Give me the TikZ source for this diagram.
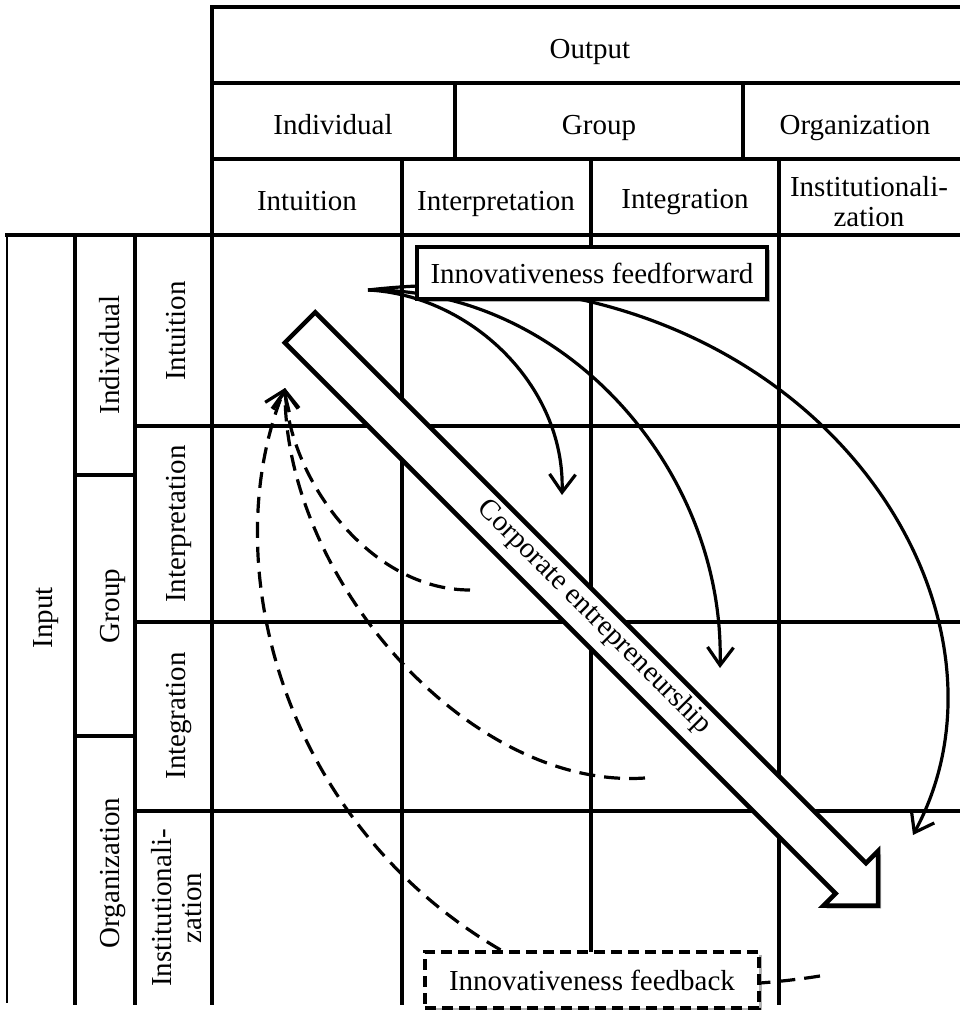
\documentclass[tikz,border=0pt]{standalone}
\usepackage{fontspec}
\setmainfont{Liberation Serif}
\usetikzlibrary{arrows.meta,shadows}
\begin{document}
\begin{tikzpicture}[x=1pt,y=-1pt,
  gridline/.style={line width=4.2pt,line cap=rect},
  thinline/.style={line width=2.2pt},
  cell/.style={font=\fontsize{29}{30}\selectfont,text height=20pt,text depth=6pt,inner sep=0pt},
  celltwo/.style={font=\fontsize{29}{30}\selectfont,align=center,inner sep=0pt},
  vcell/.style={cell,rotate=90},
  softshadow/.style={drop shadow={shadow xshift=3pt,shadow yshift=-3pt,opacity=0.3,fill=black}},
  ffarrow/.style={line width=3.2pt,-{Straight Barb[length=18pt,width=26pt]}},
  fbarrow/.style={ffarrow,dash pattern=on 16pt off 9pt},
  ffbox/.style={draw,line width=4pt,fill=white,softshadow,minimum width=350pt,minimum height=52pt,inner sep=0pt,font=\fontsize{29}{30}\selectfont},
  fbbox/.style={draw,line width=4pt,fill=white,softshadow,dash pattern=on 11pt off 6pt,minimum width=334pt,minimum height=56pt,inner sep=0pt,font=\fontsize{29}{30}\selectfont},
  bigarrow/.style={draw,line width=4.5pt,fill=white,line join=miter,softshadow},
]
\useasboundingbox (0,0) rectangle (960,1010);

% ---------- grid ----------
\draw[gridline] (212,7) -- (960,7);
\draw[gridline] (212,83) -- (960,83);
\draw[gridline] (212,159) -- (960,159);
\draw[gridline] (7,235) -- (960,235);
\draw[gridline] (135,426) -- (960,426);
\draw[gridline] (135,622) -- (960,622);
\draw[gridline] (135,811) -- (960,811);
\draw[gridline] (75,475) -- (135,475);
\draw[gridline] (75,736) -- (135,736);
\draw[gridline] (212,7) -- (212,1003);
\draw[gridline] (455,83) -- (455,159);
\draw[gridline] (743,83) -- (743,159);
\draw[gridline] (402,159) -- (402,1003);
\draw[gridline] (591,159) -- (591,1003);
\draw[gridline] (779,159) -- (779,1003);
\draw[gridline] (75,235) -- (75,1003);
\draw[gridline] (135,235) -- (135,1003);
\draw[thinline] (7,235) -- (7,1003);

% ---------- header labels ----------
\node[cell] (out) at (590,51) {Output};
\node[cell] (hind) at (333,127) {Individual};
\node[cell] (hgrp) at (599,127) {Group};
\node[cell] (horg) at (855,127) {Organization};
\node[cell] (hint) at (307,203) {Intuition};
\node[cell] (hinp) at (496,203) {Interpretation};
\node[cell] (hing) at (685,201) {Integration};
\node[celltwo] (hins) at (869,202) {Institutionali-\\zation};

% ---------- left labels ----------
\node[vcell] (input) at (45,618) {Input};
\node[vcell] (lind) at (112,355) {Individual};
\node[vcell] (lgrp) at (112,606) {Group};
\node[vcell] (lorg) at (112,873) {Organization};
\node[vcell] (lint) at (178,331) {Intuition};
\node[vcell] (linp) at (178,524) {Interpretation};
\node[vcell] (ling) at (178,716) {Integration};
\node[celltwo,rotate=90] (lins) at (177,908) {Institutionali-\\zation};

% ---------- feedforward ----------
\coordinate (ffs) at (368,290);
\coordinate (ff1) at (562,495);
\coordinate (ff2) at (720,668);
\coordinate (ff3) at (913,835);
\draw[ffarrow] (ffs) .. controls (470,295) and (565,385) .. (ff1);
\draw[ffarrow] (ffs) .. controls (565,288) and (725,470) .. (ff2);
\draw[ffarrow] (ffs) .. controls (800,240) and (1040,600) .. (ff3);
\node[ffbox] (ffbx) at (592,273) {Innovativeness feedforward};

% ---------- feedback ----------
\coordinate (fbt) at (285,388);
\coordinate (fba) at (470,590);
\coordinate (fbb) at (645,778);
\coordinate (fbc) at (820,976);
\coordinate (fbq) at (499,949);
\draw[fbarrow] (fba) .. controls (370,590) and (290,480) .. (fbt);
\draw[fbarrow] (fbb) .. controls (470,790) and (285,580) .. (fbt);
\draw[fbarrow] (fbc) .. controls (700,995) and (560,985) .. (fbq) .. controls (280,820) and (215,560) .. (fbt);
\node[fbbox] (fbbx) at (592,980) {Innovativeness feedback};

% ---------- corporate entrepreneurship arrow ----------
\draw[bigarrow] (315.2,312.3) -- (866,863.1) -- (878,851.1) -- (878,905.5) -- (823.6,905.5) -- (835.6,893.5) -- (284.8,342.7) -- cycle;
\node[cell,rotate=-45] (ce) at (594,617) {Corporate entrepreneurship};
\end{tikzpicture}
\end{document}
